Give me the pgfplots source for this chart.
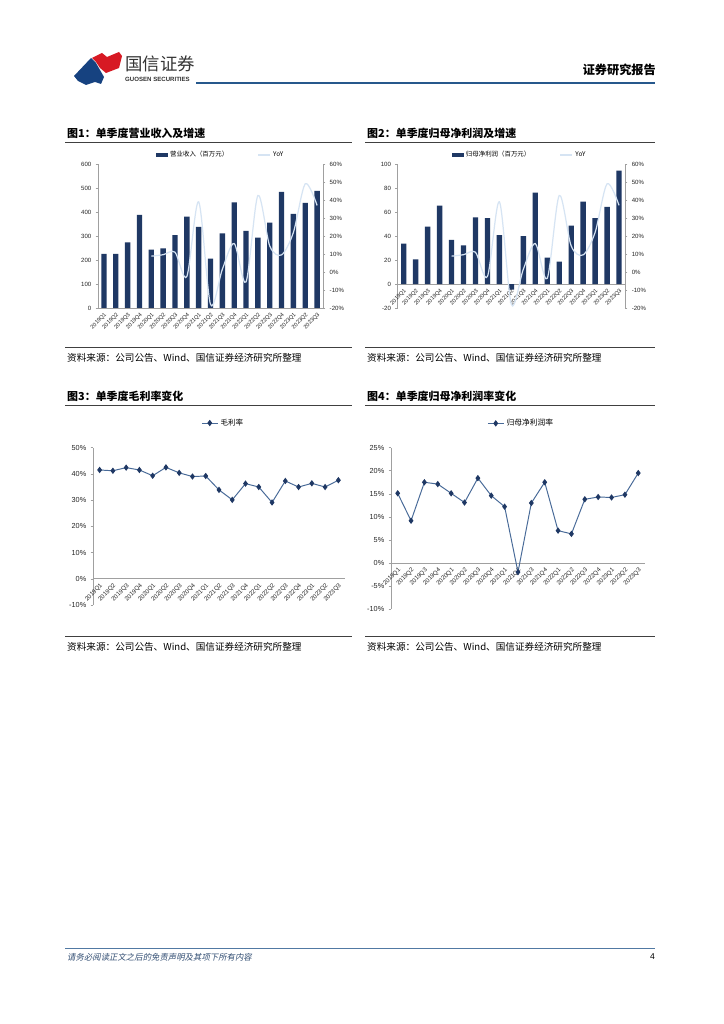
\documentclass[border=0pt]{standalone}
\usepackage{fontspec}
\setmainfont{Liberation Sans}
\newfontfamily\cjk{Noto Sans CJK SC}
\newfontfamily\cjkit[FakeSlant=0.2]{Noto Sans CJK SC}
\usepackage{pgfplots}
\pgfplotsset{compat=1.18}
\definecolor{navy}{RGB}{31,56,100}
\definecolor{yoy}{RGB}{214,228,243}
\definecolor{linec}{RGB}{72,106,152}
\definecolor{axgray}{RGB}{160,160,160}
\definecolor{hdrblue}{RGB}{38,88,140}
\definecolor{logored}{RGB}{215,25,35}
\definecolor{logoblue}{RGB}{22,66,128}
\definecolor{ftc}{RGB}{50,78,115}
\pgfplotsset{
  base/.style={scale only axis, anchor=north west,
    tick label style={font=\fontsize{5}{6}\selectfont, text=black!85},
    axis line style={axgray, line width=0.5pt},
    tick style={axgray, line width=0.4pt},
    tick align=outside, major tick length=2pt,
    xmin=-0.5, xmax=18.5,
    xtick={0,...,18}, xtick style={draw=none},
    xticklabels={2019Q1,2019Q2,2019Q3,2019Q4,2020Q1,2020Q2,2020Q3,2020Q4,2021Q1,2021Q2,2021Q3,2021Q4,2022Q1,2022Q2,2022Q3,2022Q4,2023Q1,2023Q2,2023Q3},
    xticklabel style={rotate=45, anchor=north east, inner sep=1pt, font=\fontsize{4.6}{5}\selectfont},
  },
  barleg/.style={legend image code/.code={\fill[navy] (0pt,-1.3pt) rectangle (9pt,1.3pt);}},
  yoyleg/.style={legend image code/.code={\draw[yoy,line width=1pt] (0pt,0pt) -- (10pt,0pt);}},
  mkleg/.style={legend image code/.code={\draw[mark repeat=2,mark phase=2,##1] plot coordinates {(0pt,0pt) (6.5pt,0pt) (13pt,0pt)};}},
}
\begin{document}
\begin{tikzpicture}
\begin{scope}[x=0.8222pt,y=-0.8222pt]
\fill[white] (0,0) rectangle (724,1024);
\path[use as bounding box] (0,0) rectangle (724,1024);
% header logo
\fill[logored] (92,58) -- (102,53) -- (107,57) -- (119,52) -- (122,56) -- (119,68) -- (106,73) -- (100,68) -- (96,62) -- cycle;
\fill[logoblue] (74,76) -- (91,58) -- (96,63) -- (100,70) -- (104,77) -- (101,84) -- (95,82) -- (86,85) -- (78,81) -- cycle;
\node[anchor=west, inner sep=0, text=black!80] at (125,64) {\cjk\fontsize{14.3}{14}\selectfont 国信证券};
\node[anchor=west, inner sep=0, text=black!80] at (125,79) {\fontsize{5}{5}\selectfont\bfseries GUOSEN SECURITIES};
\node[anchor=east, inner sep=0] at (656,70) {\cjk\bfseries\fontsize{10}{10}\selectfont 证券研究报告};
\draw[hdrblue, line width=1.8pt] (196,83) -- (655,83);
% titles
\node[anchor=west, inner sep=0] at (67,133) {\cjk\bfseries\fontsize{9}{9}\selectfont 图1：单季度营业收入及增速};
\node[anchor=west, inner sep=0] at (367,133) {\cjk\bfseries\fontsize{9}{9}\selectfont 图2：单季度归母净利润及增速};
\node[anchor=west, inner sep=0] at (67,396) {\cjk\bfseries\fontsize{9}{9}\selectfont 图3：单季度毛利率变化};
\node[anchor=west, inner sep=0] at (367,396) {\cjk\bfseries\fontsize{9}{9}\selectfont 图4：单季度归母净利润率变化};
\draw[black!75, line width=0.7pt] (65,142) -- (352,142);
\draw[black!75, line width=0.7pt] (365,142) -- (655,142);
\draw[black!75, line width=0.7pt] (65,405) -- (352,405);
\draw[black!75, line width=0.7pt] (365,405) -- (655,405);
% sources
\draw[black!75, line width=0.7pt] (65,347) -- (352,347);
\draw[black!75, line width=0.7pt] (365,347) -- (655,347);
\draw[black!75, line width=0.7pt] (65,636) -- (352,636);
\draw[black!75, line width=0.7pt] (365,636) -- (655,636);
\node[anchor=west, inner sep=0] at (67,358) {\cjk\fontsize{7.9}{8}\selectfont 资料来源：公司公告、Wind、国信证券经济研究所整理};
\node[anchor=west, inner sep=0] at (367,358) {\cjk\fontsize{7.9}{8}\selectfont 资料来源：公司公告、Wind、国信证券经济研究所整理};
\node[anchor=west, inner sep=0] at (67,647) {\cjk\fontsize{7.9}{8}\selectfont 资料来源：公司公告、Wind、国信证券经济研究所整理};
\node[anchor=west, inner sep=0] at (367,647) {\cjk\fontsize{7.9}{8}\selectfont 资料来源：公司公告、Wind、国信证券经济研究所整理};
% footer
\draw[hdrblue!80, line width=0.7pt] (65,948) -- (655,948);
\node[anchor=west, inner sep=0, text=ftc] at (67,957) {\cjkit\fontsize{6.9}{7}\selectfont 请务必阅读正文之后的免责声明及其项下所有内容};
\node[anchor=east, inner sep=0] at (655,957) {\fontsize{7}{7}\selectfont 4};
\end{scope}

% ---------- Chart 1 ----------
\begin{axis}[base, at={(80.58pt,-134.84pt)}, width=185pt, height=118.4pt,
  ymin=0, ymax=600, axis x line*=bottom, axis y line*=left,
  ytick={0,100,...,600}, yticklabels={0,100,200,300,400,500,600}]
\addplot[ybar, bar width=4.4pt, fill=navy, draw=none] coordinates {
(0,225) (1,226) (2,273) (3,388) (4,243) (5,248) (6,304) (7,381) (8,338) (9,206)
(10,311) (11,440) (12,321) (13,293) (14,356) (15,484) (16,392) (17,438) (18,488)};
\end{axis}
\begin{axis}[base, at={(80.58pt,-134.84pt)}, width=185pt, height=118.4pt,
  ymin=-20, ymax=60, axis x line=none, axis y line*=right,
  ytick={-20,-10,...,60}, yticklabels={-20\%,-10\%,0\%,10\%,20\%,30\%,40\%,50\%,60\%},
  legend style={at={(0.547,1.0625)}, anchor=center, draw=none, fill=none, legend columns=2,
    font=\cjk\fontsize{5.3}{6}\selectfont, inner sep=0pt,
    /tikz/every even column/.append style={column sep=22pt}}]
\addlegendimage{barleg}
\addlegendentry{营业收入（百万元）}
\addplot[yoy, line width=1pt, smooth, tension=0.5, yoyleg] coordinates {
(4,8.8) (5,9.6) (6,11.0) (7,-2.5) (8,39) (9,-18) (10,1.5) (11,15.8) (12,-5.5)
(13,42.5) (14,14.5) (15,9.5) (16,22) (17,49) (18,37)};
\addlegendentry{YoY}
\end{axis}

% ---------- Chart 2 ----------
\begin{axis}[base, at={(326.99pt,-134.84pt)}, width=186.9pt, height=118.4pt,
  ymin=-20, ymax=100, axis x line*=middle, axis y line*=left,
  hide obscured x ticks=false, hide obscured y ticks=false,
  ytick={-20,0,...,100}, yticklabels={-20,0,20,40,60,80,100}]
\addplot[ybar, bar width=4.4pt, fill=navy, draw=none] coordinates {
(0,33.6) (1,20.6) (2,47.8) (3,65.3) (4,36.7) (5,32.2) (6,55.6) (7,55.0) (8,40.8) (9,-4.7)
(10,40.0) (11,76.1) (12,21.9) (13,18.6) (14,48.6) (15,68.6) (16,55.0) (17,64.2) (18,94.4)};
\end{axis}
\begin{axis}[base, at={(326.99pt,-134.84pt)}, width=186.9pt, height=118.4pt,
  ymin=-20, ymax=60, axis x line=none, axis y line*=right,
  ytick={-20,-10,...,60}, yticklabels={-20\%,-10\%,0\%,10\%,20\%,30\%,40\%,50\%,60\%},
  legend style={at={(0.538,1.0625)}, anchor=center, draw=none, fill=none, legend columns=2,
    font=\cjk\fontsize{5.3}{6}\selectfont, inner sep=0pt,
    /tikz/every even column/.append style={column sep=22pt}}]
\addlegendimage{barleg}
\addlegendentry{归母净利润（百万元）}
\addplot[yoy, line width=1pt, smooth, tension=0.5, yoyleg] coordinates {
(4,8.8) (5,9.6) (6,11.0) (7,-2.5) (8,39) (9,-18) (10,1.5) (11,15.8) (12,-3.5)
(13,42.5) (14,14.5) (15,9.5) (16,22) (17,49) (18,37)};
\addlegendentry{YoY}
\end{axis}

% ---------- Chart 3 ----------
\begin{axis}[base, at={(76.46pt,-368.1pt)}, width=207.2pt, height=129.3pt,
  ymin=-10, ymax=50, axis x line*=middle, axis y line*=left,
  hide obscured x ticks=false, hide obscured y ticks=false,
  tick label style={font=\fontsize{6}{6}\selectfont},
  xticklabel style={font=\fontsize{5}{5}\selectfont},
  ytick={-10,0,...,50}, yticklabels={-10\%,0\%,10\%,20\%,30\%,40\%,50\%},
  legend style={at={(0.518,1.157)}, anchor=center, draw=none, fill=none,
    font=\cjk\fontsize{6.2}{7}\selectfont, inner sep=0pt}]
\addplot[linec, line width=0.8pt, mark=diamond*, mark size=2pt, mark options={fill=navy, draw=navy}, mkleg] coordinates {
(0,41.5) (1,41.2) (2,42.4) (3,41.5) (4,39.3) (5,42.5) (6,40.4) (7,39.0) (8,39.2) (9,33.9)
(10,30.1) (11,36.3) (12,35.0) (13,29.1) (14,37.3) (15,35.0) (16,36.4) (17,35.0) (18,37.6)};
\addlegendentry{毛利率}
\end{axis}

% ---------- Chart 4 ----------
\begin{axis}[base, at={(321.48pt,-368.1pt)}, width=208.8pt, height=132.6pt,
  ymin=-10, ymax=25, axis x line*=middle, axis y line*=left,
  hide obscured x ticks=false, hide obscured y ticks=false,
  tick label style={font=\fontsize{6}{6}\selectfont},
  xticklabel style={font=\fontsize{5}{5}\selectfont},
  ytick={-10,-5,...,25}, yticklabels={-10\%,-5\%,0\%,5\%,10\%,15\%,20\%,25\%},
  legend style={at={(0.514,1.151)}, anchor=center, draw=none, fill=none,
    font=\cjk\fontsize{6.4}{7}\selectfont, inner sep=0pt}]
\addplot[linec, line width=0.8pt, mark=diamond*, mark size=2pt, mark options={fill=navy, draw=navy}, mkleg] coordinates {
(0,15.1) (1,9.15) (2,17.5) (3,17.1) (4,15.1) (5,13.1) (6,18.4) (7,14.6) (8,12.2) (9,-2.0)
(10,13.0) (11,17.5) (12,7.0) (13,6.3) (14,13.8) (15,14.3) (16,14.2) (17,14.8) (18,19.5)};
\addlegendentry{归母净利润率}
\end{axis}
\end{tikzpicture}
\end{document}
